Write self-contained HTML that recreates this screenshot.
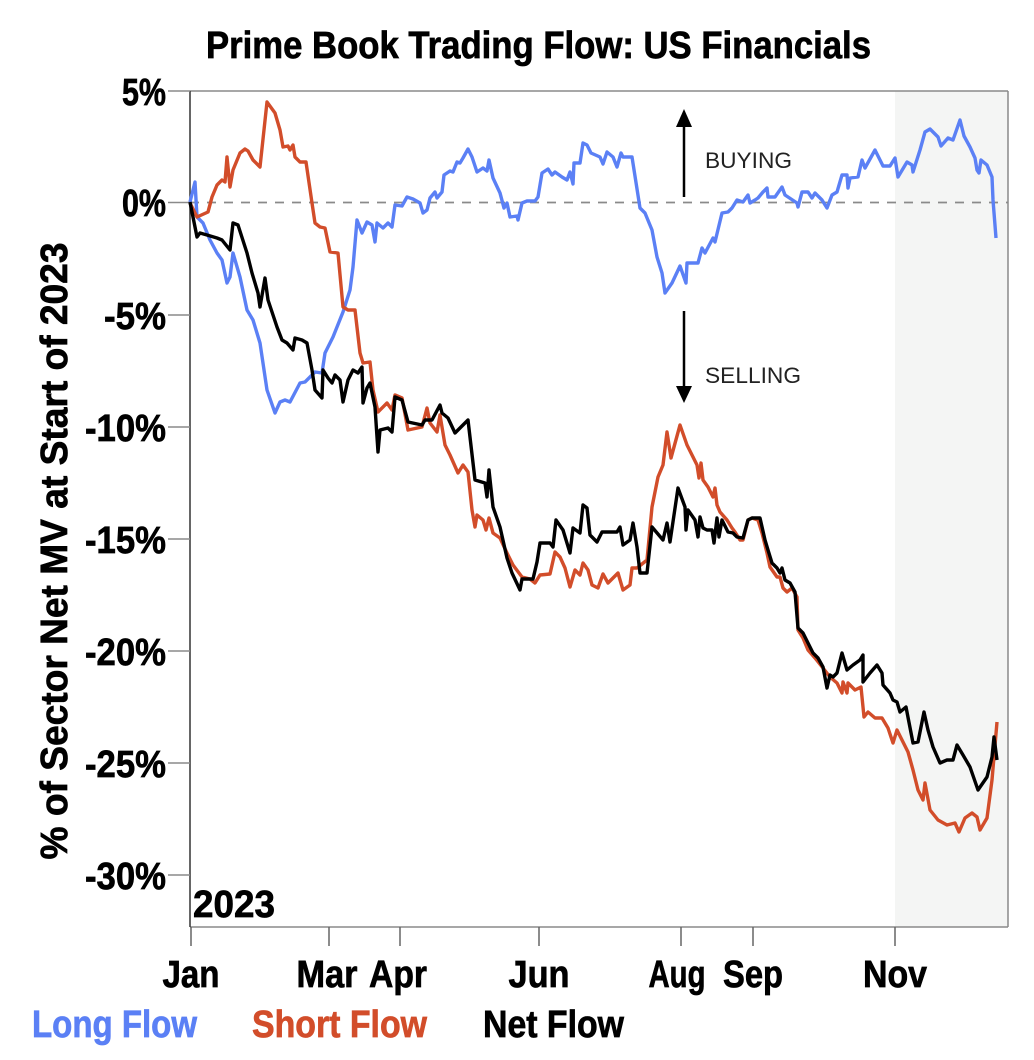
<!DOCTYPE html>
<html>
<head>
<meta charset="utf-8">
<style>
  html, body { margin: 0; padding: 0; background: #ffffff; }
  body { width: 1034px; height: 1060px; overflow: hidden; }
  svg { display: block; }
  .b { font-family: "Liberation Sans Narrow", "Liberation Sans", sans-serif; font-weight: bold; stroke-width: 0.7px; }
  .n { font-family: "Liberation Sans", sans-serif; font-weight: normal; }
</style>
</head>
<body>
<svg width="1034" height="1060" viewBox="0 0 1034 1060" xmlns="http://www.w3.org/2000/svg">
  <rect x="0" y="0" width="1034" height="1060" fill="#ffffff"/>

  <!-- shaded region -->
  <rect x="895" y="91" width="113" height="836" fill="#f4f5f4"/>

  <!-- frame -->
  <line x1="190" y1="91" x2="1008" y2="91" stroke="#8a8a8a" stroke-width="1.5"/>
  <line x1="1008" y1="91" x2="1008" y2="927" stroke="#8a8a8a" stroke-width="1.5"/>
  <line x1="190" y1="927" x2="1008" y2="927" stroke="#8a8a8a" stroke-width="1.5"/>
  <line x1="190" y1="91" x2="190" y2="927" stroke="#333" stroke-width="1.5"/>

  <!-- zero dashed line -->
  <line x1="190" y1="202.5" x2="1008" y2="202.5" stroke="#8a8a8a" stroke-width="1.8" stroke-dasharray="9,8"/>

  <!-- y ticks -->
  <g stroke="#8a8a8a" stroke-width="1.5">
    <line x1="168" y1="91" x2="190" y2="91"/>
    <line x1="168" y1="202.5" x2="190" y2="202.5"/>
    <line x1="168" y1="315" x2="190" y2="315"/>
    <line x1="168" y1="427" x2="190" y2="427"/>
    <line x1="168" y1="539" x2="190" y2="539"/>
    <line x1="168" y1="651" x2="190" y2="651"/>
    <line x1="168" y1="763" x2="190" y2="763"/>
    <line x1="168" y1="875" x2="190" y2="875"/>
  </g>
  <!-- x ticks -->
  <g stroke="#666" stroke-width="1.5">
    <line x1="191" y1="927" x2="191" y2="946"/>
    <line x1="329" y1="927" x2="329" y2="946"/>
    <line x1="400" y1="927" x2="400" y2="946"/>
    <line x1="539" y1="927" x2="539" y2="946"/>
    <line x1="681" y1="927" x2="681" y2="946"/>
    <line x1="753" y1="927" x2="753" y2="946"/>
    <line x1="895" y1="927" x2="895" y2="946"/>
  </g>

  <!-- title -->
  <text class="b" x="206" y="58" font-size="38" textLength="665" lengthAdjust="spacingAndGlyphs" fill="#000" stroke="#000">Prime Book Trading Flow: US Financials</text>

  <!-- y tick labels -->
  <g class="b" font-size="38" fill="#000" stroke="#000" text-anchor="end">
    <text x="166" y="105" textLength="44" lengthAdjust="spacingAndGlyphs">5%</text>
    <text x="166" y="216" textLength="44" lengthAdjust="spacingAndGlyphs">0%</text>
    <text x="166" y="329" textLength="62" lengthAdjust="spacingAndGlyphs">-5%</text>
    <text x="166" y="441" textLength="81" lengthAdjust="spacingAndGlyphs">-10%</text>
    <text x="166" y="553" textLength="81" lengthAdjust="spacingAndGlyphs">-15%</text>
    <text x="166" y="665" textLength="81" lengthAdjust="spacingAndGlyphs">-20%</text>
    <text x="166" y="777" textLength="81" lengthAdjust="spacingAndGlyphs">-25%</text>
    <text x="166" y="889" textLength="81" lengthAdjust="spacingAndGlyphs">-30%</text>
  </g>

  <!-- y axis label -->
  <text class="b" font-size="38" fill="#000" stroke="#000" text-anchor="middle" transform="translate(67,551) rotate(-90)" textLength="617" lengthAdjust="spacingAndGlyphs">% of Sector Net MV at Start of 2023</text>

  <!-- x labels -->
  <g class="b" font-size="38" fill="#000" stroke="#000" text-anchor="middle">
    <text x="191" y="987" textLength="57" lengthAdjust="spacingAndGlyphs">Jan</text>
    <text x="327" y="987" textLength="61" lengthAdjust="spacingAndGlyphs">Mar</text>
    <text x="398" y="987" textLength="58" lengthAdjust="spacingAndGlyphs">Apr</text>
    <text x="539" y="987" textLength="61" lengthAdjust="spacingAndGlyphs">Jun</text>
    <text x="677" y="987" textLength="57" lengthAdjust="spacingAndGlyphs">Aug</text>
    <text x="753" y="987" textLength="60" lengthAdjust="spacingAndGlyphs">Sep</text>
    <text x="895" y="987" textLength="64" lengthAdjust="spacingAndGlyphs">Nov</text>
  </g>

  <!-- legend -->
  <g class="b" font-size="38">
    <text x="32" y="1037" fill="#5b80f5" stroke="#5b80f5" textLength="165" lengthAdjust="spacingAndGlyphs">Long Flow</text>
    <text x="252" y="1037" fill="#d24d2a" stroke="#d24d2a" textLength="175" lengthAdjust="spacingAndGlyphs">Short Flow</text>
    <text x="483" y="1037" fill="#000" stroke="#000" textLength="141" lengthAdjust="spacingAndGlyphs">Net Flow</text>
  </g>

  <!-- 2023 label -->
  <text class="b" x="193" y="917" font-size="38" fill="#000" stroke="#000" textLength="82" lengthAdjust="spacingAndGlyphs">2023</text>

  <!-- annotations -->
  <line x1="684" y1="197" x2="684" y2="122" stroke="#000" stroke-width="2.5"/>
  <polygon points="684,109 676,127 692,127" fill="#000"/>
  <line x1="684" y1="311" x2="684" y2="388" stroke="#000" stroke-width="2.5"/>
  <polygon points="684,403 676,386 692,386" fill="#000"/>
  <text class="n" x="705" y="168" font-size="22" fill="#222" textLength="87" lengthAdjust="spacingAndGlyphs">BUYING</text>
  <text class="n" x="705" y="383" font-size="22" fill="#222" textLength="96" lengthAdjust="spacingAndGlyphs">SELLING</text>

  <!-- Long Flow (blue) -->
  <polyline fill="none" stroke="#5b80f5" stroke-width="3.4" stroke-linejoin="round" points="190,202 195,182 197,217 203,223 210,240 217,253 222,260 227,283 230,277 233,253 240,277 247,310 253,320 260,343 267,390 275,413 280,402 285,400 290,402 300,383 305,382 310,377 315,372 322,373 325,353 333,337 343,312 350,290 353,267 357,220 362,233 367,222 372,225 375,242 377,223 383,228 388,223 392,227 395,205 402,206 407,197 413,199 420,203 423,213 427,210 430,198 435,192 437,198 442,192 444,175 450,171 453,172 457,162 460,163 463,158 468,149 472,157 477,172 483,168 487,171 489,160 493,178 500,193 504,208 507,203 510,217 517,216 518,220 522,203 527,201 535,201 538,197 542,173 548,169 552,175 555,172 562,177 567,180 570,172 573,184 574,163 580,163 583,143 587,145 591,153 600,157 603,164 607,152 613,157 617,167 621,153 623,157 632,157 640,208 645,213 652,230 657,257 662,273 665,293 672,283 680,266 686,283 687,263 698,263 702,248 705,253 713,238 715,242 722,213 728,212 732,208 737,200 743,202 748,195 750,203 755,200 758,198 763,192 767,188 768,197 775,197 782,187 785,195 797,203 798,207 802,192 808,192 812,198 815,193 822,200 827,208 832,195 837,192 842,175 847,175 848,188 850,178 858,177 862,160 865,168 875,150 883,166 890,166 895,158 898,177 907,162 912,165 913,172 920,150 925,132 930,129 938,137 941,146 948,138 953,140 960,120 964,136 970,147 975,158 977,170 979,173 981,160 987,165 992,177 993,200 996,238"/>

  <!-- Short Flow (red) -->
  <polyline fill="none" stroke="#d24d2a" stroke-width="3.4" stroke-linejoin="round" points="190,203 197,217 208,212 212,197 217,185 222,180 225,182 227,157 230,187 233,170 240,153 245,149 248,151 253,160 260,167 267,102 275,113 280,130 283,147 288,146 290,150 293,145 295,157 300,162 306,162 312,203 315,223 320,227 325,228 330,252 338,253 343,307 348,310 355,310 360,353 363,363 370,362 373,390 378,412 387,403 392,410 395,395 402,398 408,430 422,427 427,408 430,423 437,432 440,415 445,445 450,455 458,473 463,465 468,472 472,510 475,527 477,515 483,520 486,530 489,518 493,533 500,538 507,553 513,565 522,577 530,579 535,583 540,575 550,574 555,552 560,557 565,568 570,587 575,570 580,575 583,563 588,570 592,585 598,588 603,574 608,583 618,573 623,590 630,585 632,568 637,568 647,560 652,507 658,477 663,465 667,432 671,458 680,425 687,445 693,457 697,465 699,478 701,463 703,480 708,487 713,497 715,488 717,505 720,512 727,520 732,528 735,532 740,540 743,540 748,520 752,518 758,520 762,533 767,553 770,567 777,577 780,577 783,588 787,592 792,588 797,597 798,630 803,638 808,650 815,658 823,668 830,677 837,683 842,693 843,682 847,693 848,683 855,690 861,687 864,717 868,712 875,718 882,718 888,728 893,743 897,730 908,752 913,770 918,790 923,800 925,783 930,810 938,820 947,825 955,823 959,832 965,818 972,813 977,817 980,830 987,818 992,780 997,722"/>

  <!-- Net Flow (black) -->
  <polyline fill="none" stroke="#000000" stroke-width="3.4" stroke-linejoin="round" points="190,202 197,237 200,233 207,235 217,238 222,240 230,250 233,223 238,225 247,253 252,273 258,293 260,307 265,278 268,300 277,327 282,340 287,343 293,350 295,338 302,340 307,343 312,370 315,390 322,398 323,370 328,378 332,383 335,375 340,380 343,402 348,380 353,370 358,373 362,367 363,403 367,388 370,383 375,407 378,452 380,430 388,428 392,432 395,397 402,400 408,422 422,425 425,420 432,420 440,405 442,413 448,418 455,433 468,420 475,480 485,483 487,497 489,470 493,507 500,527 507,558 512,573 520,590 522,579 533,579 537,562 540,543 550,543 553,547 556,520 563,530 570,553 573,528 580,533 583,505 587,508 590,535 597,542 602,532 617,532 620,527 623,545 630,540 633,523 637,547 640,573 647,573 652,527 663,540 667,523 670,542 678,488 685,507 686,530 688,510 695,520 698,537 700,517 703,528 707,530 712,530 714,543 717,518 719,537 722,520 728,532 733,533 737,537 743,538 748,520 752,518 760,518 765,540 768,550 772,563 777,568 780,573 782,568 785,580 790,583 795,592 798,628 803,633 808,643 813,653 818,658 823,667 827,688 830,675 833,677 837,673 842,653 847,670 853,665 860,660 863,655 863,682 870,673 877,665 882,673 883,685 890,693 893,700 897,702 900,712 906,707 913,743 918,742 924,712 928,730 933,747 940,763 947,760 953,760 957,745 963,755 970,767 978,790 987,777 992,757 994,737 997,760"/>
</svg>
</body>
</html>
